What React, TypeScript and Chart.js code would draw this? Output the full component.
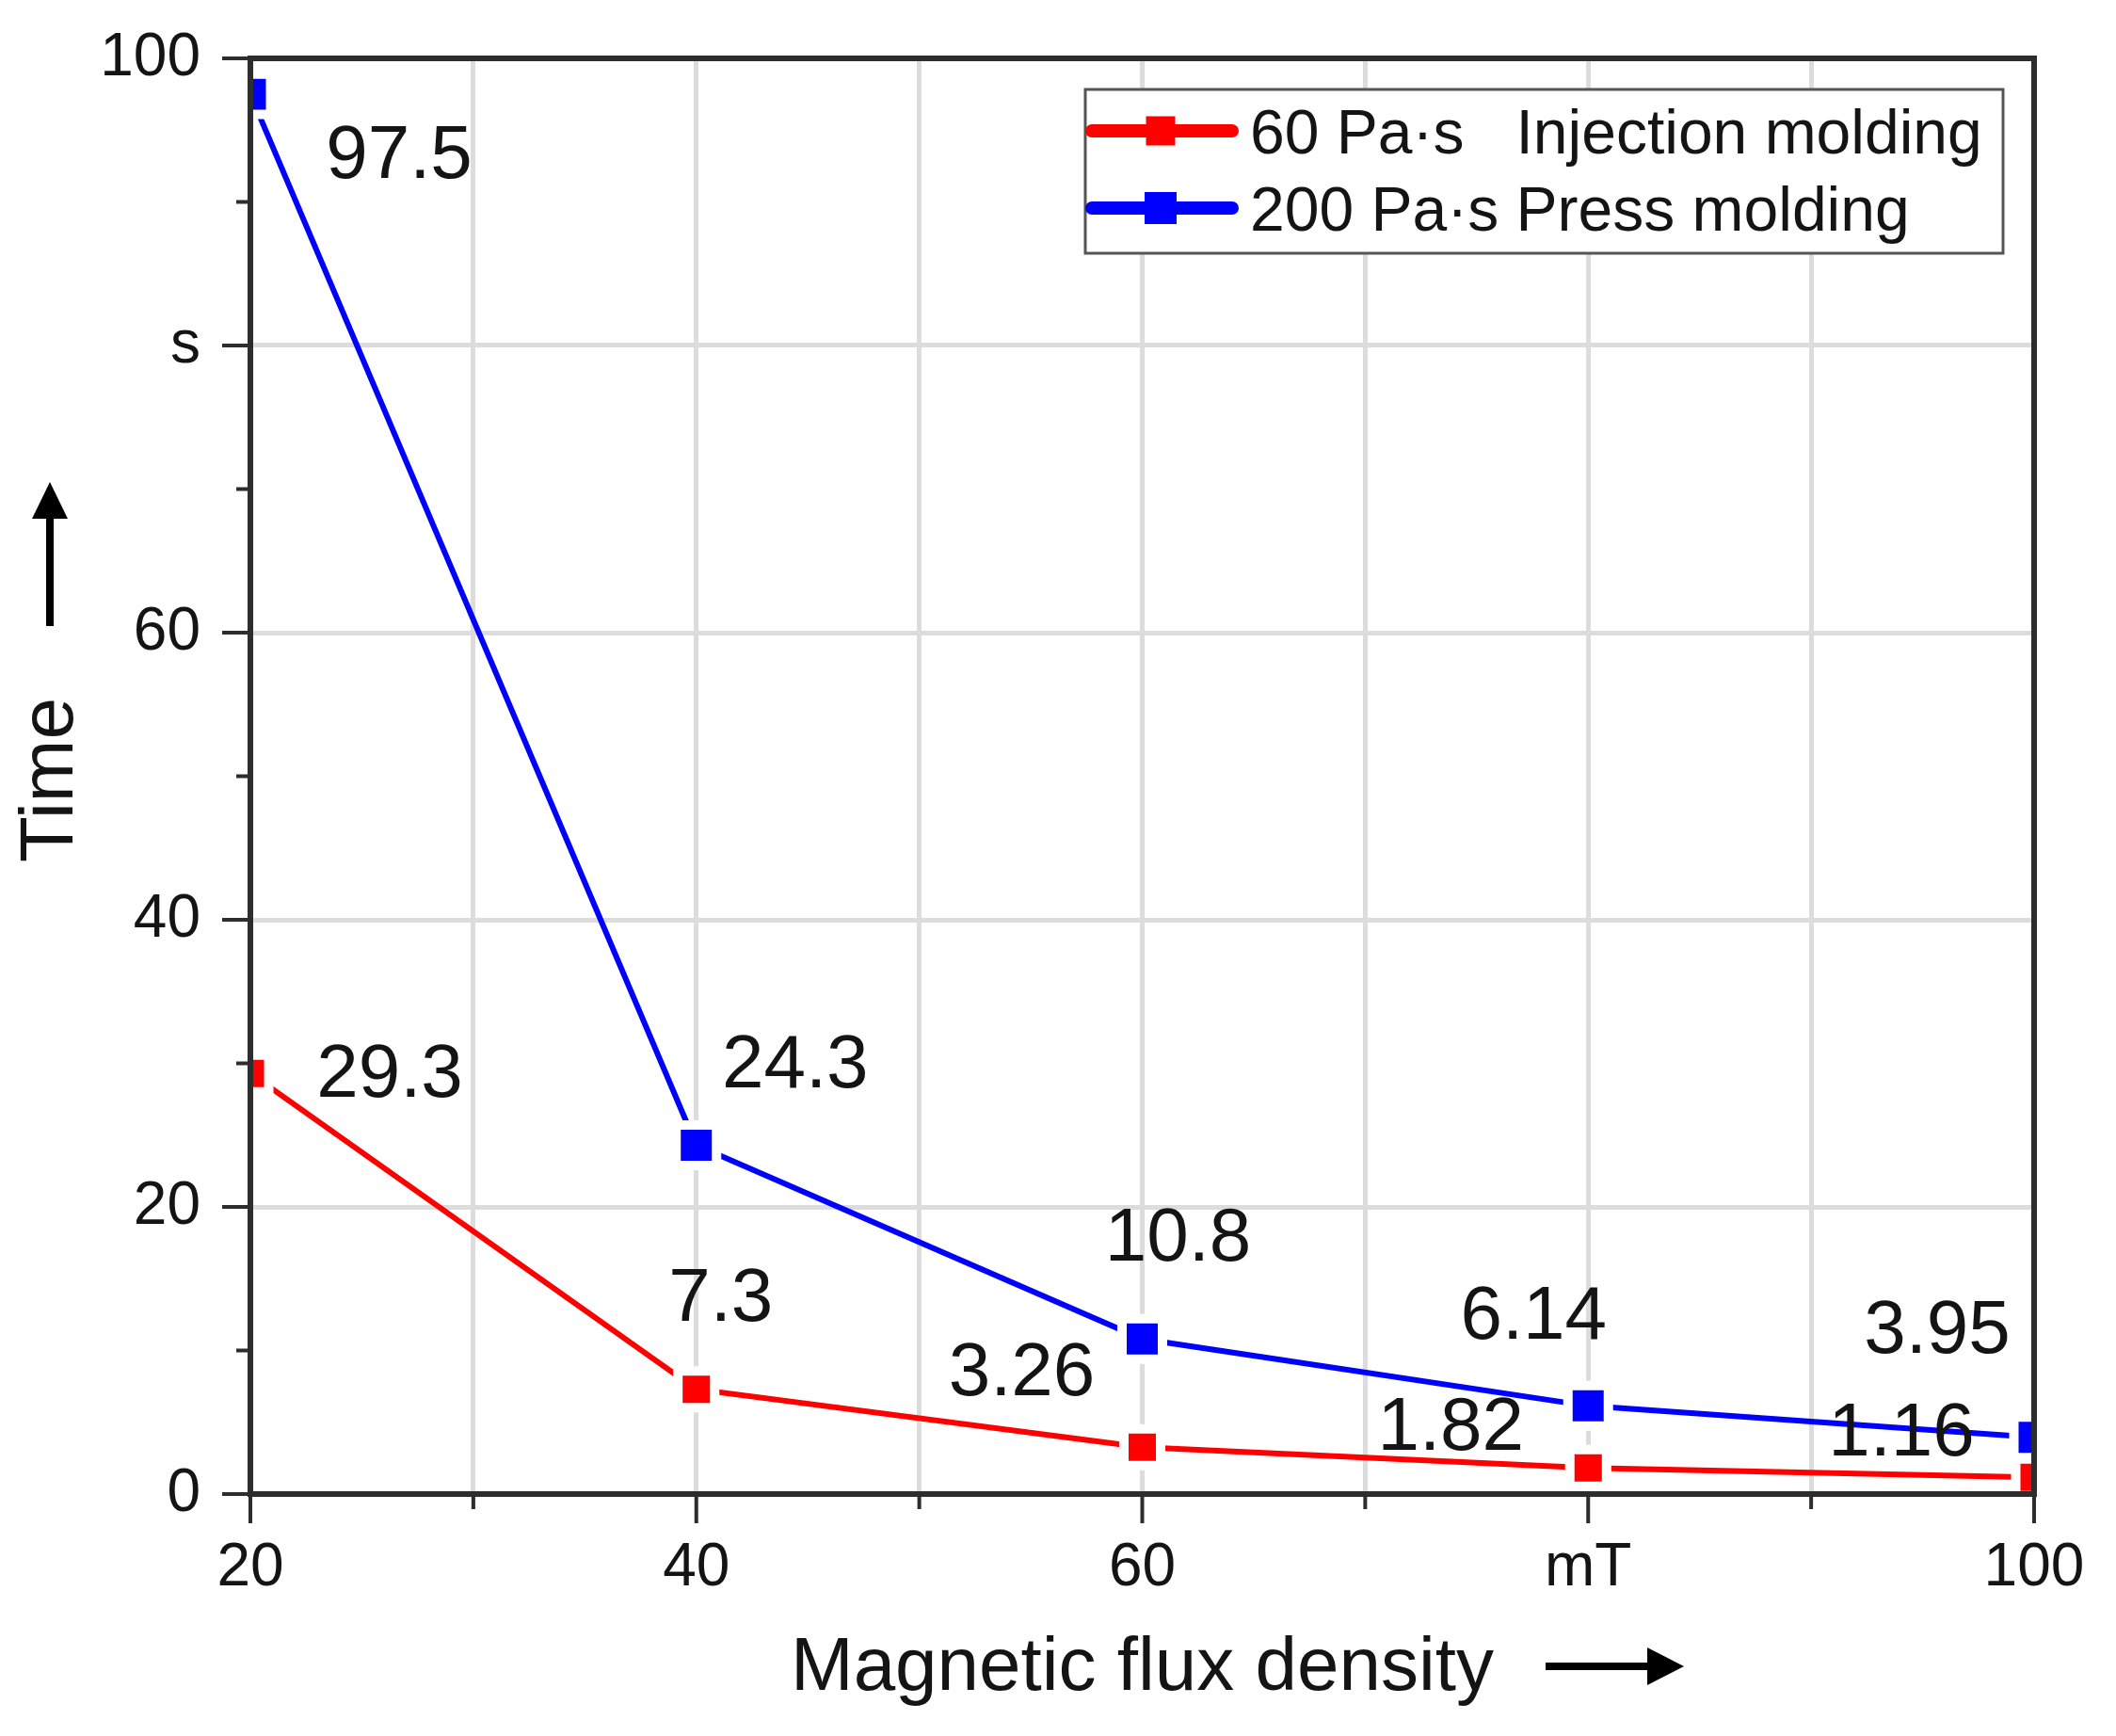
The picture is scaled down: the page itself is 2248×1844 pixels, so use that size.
import React, { useEffect, useRef } from 'react';
import { Chart, registerables } from 'chart.js';

Chart.register(...registerables);

// ---------- data ----------
const xValues = [20, 40, 60, 80, 100];
const injectionValues = [29.3, 7.3, 3.26, 1.82, 1.16];
const pressValues = [97.5, 24.3, 10.8, 6.14, 3.95];
const injectionLabels = ['29.3', '7.3', '3.26', '1.82', '1.16'];
const pressLabels = ['97.5', '24.3', '10.8', '6.14', '3.95'];
const seriesNames = ['60 Pa\u00b7s   Injection molding', '200 Pa\u00b7s Press molding'];

const xTickLabels: Record<number, string> = { 20: '20', 40: '40', 60: '60', 80: 'mT', 100: '100' };
const yTickLabels: Record<number, string> = { 0: '0', 20: '20', 40: '40', 60: '60', 80: 's', 100: '100' };
const xMajorTicks = [20, 40, 60, 80, 100];
const xMinorTicks = [30, 50, 70, 90];
const yMajorTicks = [0, 20, 40, 60, 80, 100];
const yMinorTicks = [10, 30, 50, 70, 90];
const xTitle = 'Magnetic flux density';
const yTitle = 'Time';

// ---------- style ----------
const W = 2248;
const H = 1844;
const FONT = "'Liberation Sans', Arial, Helvetica, sans-serif";
const AXIS_COLOR = '#2d2d2d';
const GRID_COLOR = '#dcdcdc';
const TEXT_COLOR = '#141414';
const RED = '#ff0000';
const BLUE = '#0000ff';
// label offsets (px) from their point, [dx, dy] of the text centre
const injectionOffsets = [[148, -4], [26, -101], [-128, -84], [-146, -48], [-141, -52]];
const pressOffsets = [[158, 60], [105, -90], [38, -112], [-58, -100], [-103, -118]];

const overlayPlugin = {
  id: 'overlay',
  afterDatasetsDraw(chart: any) {
    const { ctx, chartArea: a, scales } = chart;
    const xs = scales.x;
    const ys = scales.y;
    ctx.save();

    // frame
    ctx.strokeStyle = AXIS_COLOR;
    ctx.lineWidth = 6;
    ctx.strokeRect(a.left, a.top, a.right - a.left, a.bottom - a.top);

    // tick marks
    ctx.lineWidth = 4;
    ctx.beginPath();
    xMajorTicks.forEach((v) => {
      const p = xs.getPixelForValue(v);
      ctx.moveTo(p, a.bottom);
      ctx.lineTo(p, a.bottom + 31);
    });
    xMinorTicks.forEach((v) => {
      const p = xs.getPixelForValue(v);
      ctx.moveTo(p, a.bottom);
      ctx.lineTo(p, a.bottom + 16);
    });
    yMajorTicks.forEach((v) => {
      const p = ys.getPixelForValue(v);
      ctx.moveTo(a.left, p);
      ctx.lineTo(a.left - 30, p);
    });
    yMinorTicks.forEach((v) => {
      const p = ys.getPixelForValue(v);
      ctx.moveTo(a.left, p);
      ctx.lineTo(a.left - 15, p);
    });
    ctx.stroke();

    // data labels
    const labelSets = [injectionLabels, pressLabels];
    const offsetSets = [injectionOffsets, pressOffsets];
    const lblSize = 80;
    ctx.font = `${lblSize}px ${FONT}`;
    ctx.fillStyle = TEXT_COLOR;
    ctx.textAlign = 'center';
    ctx.textBaseline = 'alphabetic';
    labelSets.forEach((labels, d) => {
      const meta = chart.getDatasetMeta(d);
      meta.data.forEach((pt: any, i: number) => {
        const [dx, dy] = offsetSets[d][i];
        ctx.fillText(labels[i], pt.x + dx, pt.y + dy + lblSize * 0.358);
      });
    });

    // legend
    const lx = 1153, ly = 95, lw = 975, lh = 174;
    ctx.fillStyle = '#ffffff';
    ctx.fillRect(lx, ly, lw, lh);
    ctx.strokeStyle = '#555555';
    ctx.lineWidth = 3;
    ctx.strokeRect(lx, ly, lw, lh);
    const rowY = [139, 221];
    const legSize = 66;
    chart.data.datasets.forEach((ds: any, d: number) => {
      const y = rowY[d];
      ctx.strokeStyle = ds.borderColor;
      ctx.lineWidth = 14;
      ctx.lineCap = 'round';
      ctx.beginPath();
      ctx.moveTo(lx + 7, y);
      ctx.lineTo(lx + 156, y);
      ctx.stroke();
      ctx.lineCap = 'butt';
      ctx.fillStyle = ds.borderColor;
      const ms = d === 0 ? 31 : 34;
      ctx.fillRect(lx + 80 - ms / 2, y - ms / 2, ms, ms);
      ctx.fillStyle = TEXT_COLOR;
      ctx.font = `${legSize}px ${FONT}`;
      ctx.textAlign = 'left';
      ctx.textBaseline = 'alphabetic';
      ctx.fillText(ds.label, lx + 175, y + legSize * 0.358);
    });

    // axis titles
    const tSize = 80;
    ctx.font = `${tSize}px ${FONT}`;
    ctx.fillStyle = TEXT_COLOR;
    ctx.textAlign = 'center';
    ctx.textBaseline = 'alphabetic';
    const cx = (a.left + a.right) / 2;
    const cy = (a.top + a.bottom) / 2;
    ctx.fillText(xTitle, cx, 1795);
    ctx.save();
    ctx.translate(77, cy + 4);
    ctx.rotate(-Math.PI / 2);
    ctx.fillText(yTitle, 0, 0);
    ctx.restore();

    // arrows
    ctx.strokeStyle = '#000000';
    ctx.fillStyle = '#000000';
    ctx.lineWidth = 8;
    const ax0 = 1642, ax1 = 1789, ay = 1770;
    ctx.beginPath();
    ctx.moveTo(ax0, ay);
    ctx.lineTo(ax1 - 30, ay);
    ctx.stroke();
    ctx.beginPath();
    ctx.moveTo(ax1, ay);
    ctx.lineTo(ax1 - 39, ay - 20);
    ctx.lineTo(ax1 - 39, ay + 20);
    ctx.closePath();
    ctx.fill();
    const bx = 53, by0 = 665, by1 = 512;
    ctx.beginPath();
    ctx.moveTo(bx, by0);
    ctx.lineTo(bx, by1 + 30);
    ctx.stroke();
    ctx.beginPath();
    ctx.moveTo(bx, by1);
    ctx.lineTo(bx - 19, by1 + 39);
    ctx.lineTo(bx + 19, by1 + 39);
    ctx.closePath();
    ctx.fill();

    ctx.restore();
  },
};

export default function App() {
  const canvasRef = useRef<HTMLCanvasElement | null>(null);

  useEffect(() => {
    document.body.style.margin = '0';
    const canvas = canvasRef.current;
    if (!canvas) return;
    const tickFont = { family: FONT, size: 64 };
    const chart = new Chart(canvas, {
      type: 'line',
      data: {
        datasets: [
          {
            label: seriesNames[0],
            data: xValues.map((x, i) => ({ x, y: injectionValues[i] })),
            borderColor: RED,
            backgroundColor: RED,
            borderWidth: 6,
            pointStyle: 'rect',
            pointRadius: 27.6,
            pointBackgroundColor: RED,
            pointBorderColor: '#ffffff',
            pointBorderWidth: 10,
            tension: 0,
            clip: 0,
          },
          {
            label: seriesNames[1],
            data: xValues.map((x, i) => ({ x, y: pressValues[i] })),
            borderColor: BLUE,
            backgroundColor: BLUE,
            borderWidth: 6,
            pointStyle: 'rect',
            pointRadius: 30.4,
            pointBackgroundColor: BLUE,
            pointBorderColor: '#ffffff',
            pointBorderWidth: 10,
            tension: 0,
            clip: 0,
          },
        ],
      },
      options: {
        responsive: false,
        devicePixelRatio: 1,
        animation: false,
        events: [],
        layout: { padding: { top: 62, right: 87, left: 0, bottom: 0 } },
        plugins: {
          legend: { display: false },
          tooltip: { enabled: false },
        },
        scales: {
          x: {
            type: 'linear',
            min: 20,
            max: 100,
            afterFit: (s: any) => {
              s.height = 257;
              s.paddingLeft = 0;
              s.paddingRight = 0;
            },
            ticks: {
              stepSize: 10,
              autoSkip: false,
              maxRotation: 0,
              padding: 41,
              color: TEXT_COLOR,
              font: tickFont,
              callback: (v: any) => xTickLabels[v as number] ?? '',
            },
            grid: { color: GRID_COLOR, lineWidth: 5, drawTicks: false },
            border: { display: false },
          },
          y: {
            type: 'linear',
            min: 0,
            max: 100,
            afterFit: (s: any) => {
              s.width = 266;
              s.paddingTop = 0;
              s.paddingBottom = 0;
            },
            ticks: {
              stepSize: 20,
              autoSkip: false,
              padding: 53,
              color: TEXT_COLOR,
              font: tickFont,
              callback: (v: any) => yTickLabels[v as number] ?? '',
            },
            grid: { color: GRID_COLOR, lineWidth: 5, drawTicks: false },
            border: { display: false },
          },
        },
      },
      plugins: [overlayPlugin],
    } as any);
    return () => chart.destroy();
  }, []);

  return (
    <div style={{ width: W, height: H, overflow: 'hidden', background: '#ffffff' }}>
      <canvas ref={canvasRef} width={W} height={H} style={{ display: 'block' }} />
    </div>
  );
}
